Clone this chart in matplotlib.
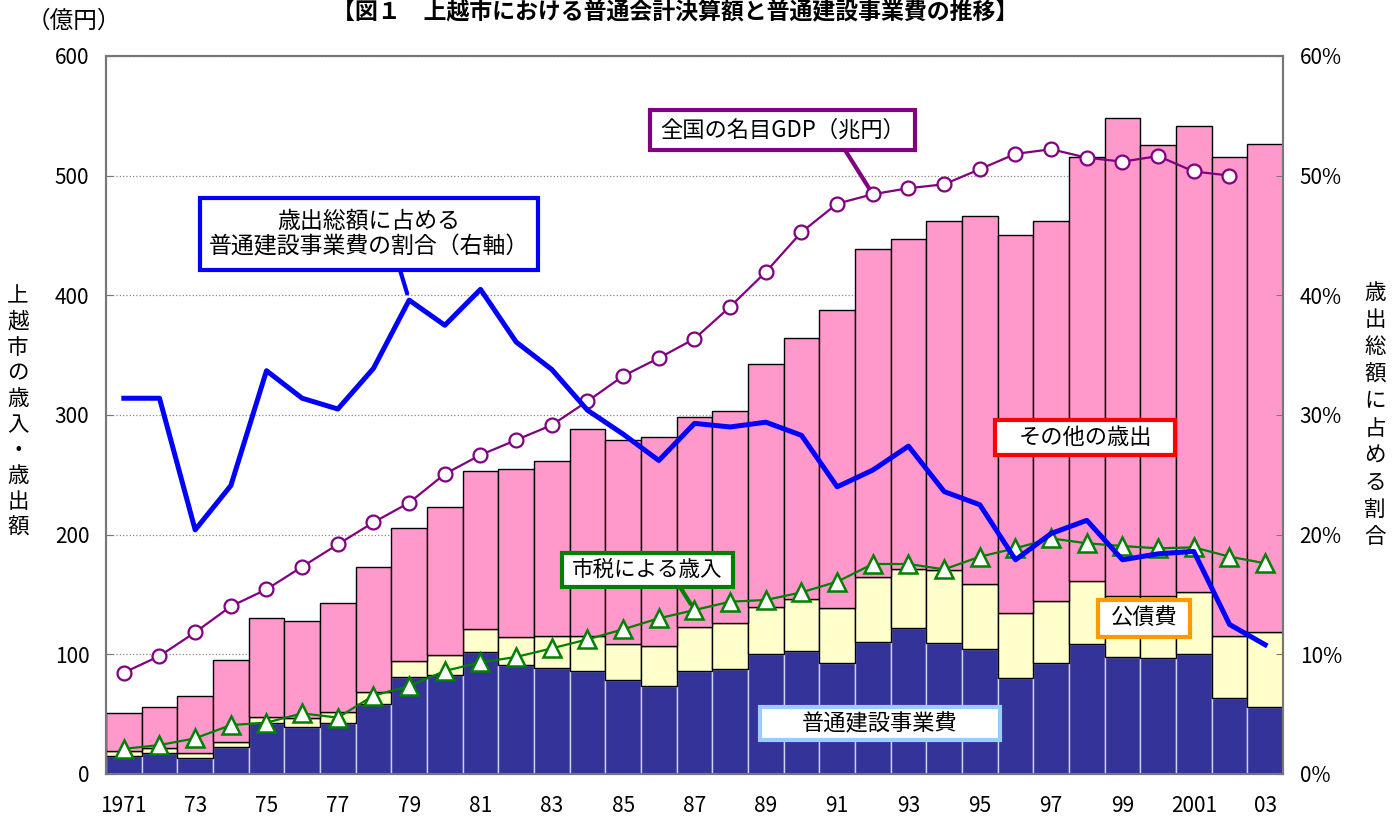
import numpy as np
import matplotlib.pyplot as plt
from matplotlib.patches import Rectangle
from matplotlib.ticker import FuncFormatter

plt.rcParams['font.family'] = ['Noto Sans CJK JP', 'DejaVu Sans']

years = np.arange(1971, 2004)
# 普通建設事業費 (億円)
kensetsu = np.array([15.3, 17.3, 13.1, 22.8, 42.9, 39.5, 42.9, 58.5, 80.8, 83.0,
                     102.2, 91.4, 88.3, 86.1, 78.5, 73.5, 86.4, 87.5, 100.0, 102.8,
                     92.5, 110.6, 121.7, 109.2, 104.2, 80.0, 92.5, 108.6, 97.5, 96.7,
                     100.0, 63.8, 56.3])
# 公債費 (億円)
kousai = np.array([3.9, 4.2, 4.2, 3.7, 5.0, 7.0, 8.7, 10.0, 13.9, 16.4,
                   18.7, 22.8, 27.0, 29.2, 29.9, 33.5, 36.2, 38.4, 39.8, 43.2,
                   46.5, 54.3, 49.3, 61.3, 54.6, 54.8, 52.1, 53.0, 51.5, 52.0,
                   52.4, 51.8, 62.6])
# 歳出総額 (億円)
total = np.array([50.7, 56.3, 65.5, 95.3, 130.1, 128.1, 142.9, 173.2, 205.3, 223.4,
                  253.2, 254.6, 261.8, 288.0, 278.8, 281.9, 298.0, 303.6, 342.5, 364.7,
                  387.5, 439.0, 446.7, 461.7, 466.1, 450.8, 462.5, 515.3, 547.8, 525.6,
                  541.7, 515.3, 526.4])
# 市税による歳入 (億円)
shizei = [21.0, 24.2, 29.8, 40.9, 42.9, 50.7, 47.1, 65.5, 73.5, 86.1,
          93.3, 97.8, 105.0, 112.5, 120.9, 130.1, 137.0, 144.0, 145.4, 151.8,
          160.7, 175.5, 175.5, 171.0, 181.6, 188.6, 196.9, 192.8, 190.5, 188.6,
          189.4, 181.6, 176.1]
# 全国の名目GDP (兆円), 1971-2002
gdp_years = np.arange(1971, 2003)
gdp = [84.7, 98.6, 118.4, 140.1, 154.3, 173.2, 191.9, 210.3, 226.7, 250.7,
       266.6, 279.1, 291.6, 311.5, 332.6, 347.6, 363.7, 390.5, 419.5, 452.8,
       476.6, 484.5, 489.5, 492.8, 505.4, 518.2, 522.1, 515.0, 511.7, 516.4,
       503.5, 500.1]
# 歳出総額に占める普通建設事業費の割合 (%)
ratio = [31.4, 31.4, 20.4, 24.1, 33.7, 31.4, 30.5, 33.9, 39.6, 37.5,
         40.5, 36.1, 33.8, 30.4, 28.4, 26.2, 29.3, 29.0, 29.4, 28.3,
         24.0, 25.4, 27.4, 23.6, 22.5, 17.9, 20.1, 21.2, 17.9, 18.4,
         18.6, 12.5, 10.8]

xtick_years = np.arange(1971, 2004, 2)
xtick_labels = ['1971', '73', '75', '77', '79', '81', '83', '85', '87', '89',
                '91', '93', '95', '97', '99', '2001', '03']

W, H = 1397, 826
fig = plt.figure(figsize=(W / 100, H / 100), dpi=100)


def fx(x):
    return x / W


def fy(y):
    return 1 - y / H


ax = fig.add_axes([fx(106), fy(774), fx(1283) - fx(106), fy(56) - fy(774)])

other = total - kensetsu - kousai
ax.bar(years, kensetsu, width=1.0, color='#333399', edgecolor='#d0d0ee', lw=1, zorder=2)
ax.bar(years, kousai, width=1.0, bottom=kensetsu, color='#FFFFCC', edgecolor='black', lw=1, zorder=2)
ax.bar(years, other, width=1.0, bottom=kensetsu + kousai, color='#FF99CC', edgecolor='black', lw=1, zorder=2)

ax.plot(gdp_years, gdp, color='#800080', lw=1.6, marker='o', ms=10,
        mfc='white', mec='#800080', mew=1.6, zorder=4)
ax.plot(years, shizei, color='#008000', lw=1.6, marker='^', ms=13,
        mfc='white', mec='#008000', mew=1.8, zorder=4)

ax.set_xlim(1970.5, 2003.5)
ax.set_ylim(0, 600)
ax.set_yticks(np.arange(0, 601, 100))
ax.set_xticks(xtick_years)
ax.set_xticklabels(xtick_labels)
ax.yaxis.grid(True, color='#888888', ls=':', lw=0.9)
ax.set_axisbelow(True)
ax.tick_params(axis='x', length=0, pad=15, labelsize=15)
ax.tick_params(axis='y', direction='in', length=5, color='#777777', pad=12, labelsize=15)

ax2 = ax.twinx()
ax2.plot(years, ratio, color='#0000FF', lw=3.6, zorder=5)
ax2.set_ylim(0, 60)
ax2.set_yticks(np.arange(0, 61, 10))
ax2.yaxis.set_major_formatter(FuncFormatter(lambda v, p: f'{int(v)}%'))
ax2.tick_params(axis='y', direction='in', length=5, color='#777777', pad=12, labelsize=15)

for a in (ax, ax2):
    for s in a.spines.values():
        s.set_color('#777777')
        s.set_linewidth(1.5)

# texts
fig.text(fx(675), fy(13), '【図１　上越市における普通会計決算額と普通建設事業費の推移】',
         ha='center', va='center', fontsize=16.5, fontweight='bold')
fig.text(fx(74), fy(21), '（億円）', ha='center', va='center', fontsize=17)
fig.text(fx(18), fy(412), '\n'.join('上越市の歳入・歳出額'), ha='center', va='center',
         fontsize=15.5, linespacing=1.22)
fig.text(fx(1375), fy(415), '\n'.join('歳出総額に占める割合'), ha='center', va='center',
         fontsize=15.5, linespacing=1.3)


def label_box(x0, y0, x1, y1, text, ec, size=15.5):
    ax2.add_patch(Rectangle((fx(x0), fy(y1)), fx(x1) - fx(x0), fy(y0) - fy(y1),
                            transform=fig.transFigure, fc='white', ec=ec, lw=3,
                            clip_on=False, zorder=10))
    ax2.text(fx((x0 + x1) / 2), fy((y0 + y1) / 2), text, transform=fig.transFigure,
             ha='center', va='center', fontsize=size, linespacing=1.15, zorder=11)


def leader(start, point, trans, color):
    ax2.annotate('', xy=point, xycoords=trans, xytext=(fx(start[0]), fy(start[1])),
                 textcoords='figure fraction', annotation_clip=False, zorder=9,
                 arrowprops=dict(arrowstyle='-', color=color, lw=3, shrinkA=0, shrinkB=5))


leader((845, 150), (gdp_years[21], gdp[21]), ax.transData, '#800080')
label_box(650, 110, 915, 150, '全国の名目GDP（兆円）', '#800080', 16)

leader((400, 270), (years[8], ratio[8]), ax2.transData, '#0000FF')
label_box(200, 198, 538, 270, '歳出総額に占める\n普通建設事業費の割合（右軸）', '#0000FF', 16.5)

leader((680, 587), (years[16], shizei[16]), ax.transData, '#008000')
label_box(562, 553, 733, 587, '市税による歳入', '#008000', 15.5)

label_box(995, 420, 1175, 455, 'その他の歳出', '#FF0000', 16)
label_box(1098, 600, 1190, 637, '公債費', '#FF9900', 16)
label_box(760, 707, 1000, 740, '普通建設事業費', '#99CCFF', 16)

fig.savefig('out.png', dpi=100)
